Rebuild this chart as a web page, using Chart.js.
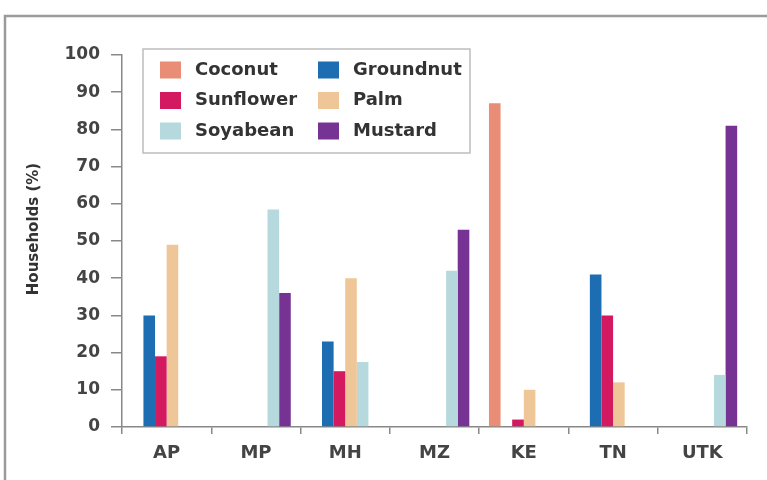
<!DOCTYPE html>
<html>
<head>
<meta charset="utf-8">
<title>Households (%)</title>
<script src="https://cdn.jsdelivr.net/npm/chart.js@4.4.1/dist/chart.umd.min.js"></script>
<style>
  body { margin: 0; background: #fff; }
  #wrap { width: 767px; height: 480px; }
</style>
</head>
<body>
<div id="wrap"><canvas id="chart-canvas"></canvas></div>
<script>
// states and share of households using each oil
let states = ["AP", "MP", "MH", "MZ", "KE", "TN", "UTK"];
let oils = ["Coconut", "Groundnut", "Sunflower", "Palm", "Soyabean", "Mustard"];
let coconut = [0, 0, 0, 0, 87, 0, 0];
let groundnut = [30, 0, 23, 0, 0, 41, 0];
let sunflower = [19, 0, 15, 0, 2, 30, 0];
let palm = [49, 0, 40, 0, 10, 12, 0];
let soyabean = [0, 58.5, 17.5, 42, 0, 0, 14];
let mustard = [0, 36, 0, 53, 0, 0, 81];
let colors = ["#e98d76", "#1d6db2", "#d3195f", "#efc697", "#b6d9dd", "#773393"];
let yTitle = "Households (%)";

Chart.defaults.font.family = "'DejaVu Sans', sans-serif";

let series = [coconut, groundnut, sunflower, palm, soyabean, mustard];
let chartData = {
  labels: states,
  datasets: series.map(function (values, i) {
    return {
      label: oils[i],
      data: values,
      backgroundColor: colors[i],
      borderWidth: 0,
    };
  }),
};

// frame, y title and the boxed two-column legend
let extras = {
  id: "extras",
  beforeDraw: function (chart) {
    let ctx = chart.ctx;
    ctx.save();
    ctx.strokeStyle = "#9a9a9a";
    ctx.lineWidth = 2.5;
    ctx.beginPath();
    ctx.moveTo(5, 480);
    ctx.lineTo(5, 16);
    ctx.lineTo(767, 16);
    ctx.stroke();
    ctx.restore();
  },
  afterDraw: function (chart) {
    let ctx = chart.ctx;
    ctx.save();
    ctx.translate(34, 229);
    ctx.rotate(-Math.PI / 2);
    ctx.fillStyle = "#333";
    ctx.font = "bold 15px 'DejaVu Sans'";
    ctx.textAlign = "center";
    ctx.textBaseline = "middle";
    ctx.fillText(yTitle, 0, 0);
    ctx.restore();

    ctx.save();
    ctx.strokeStyle = "#bdbdbd";
    ctx.lineWidth = 1.5;
    ctx.strokeRect(143, 49, 327, 104);
    ctx.font = "bold 18px 'DejaVu Sans'";
    ctx.textBaseline = "middle";
    chart.data.datasets.forEach(function (ds, i) {
      let col = i % 2;
      let row = Math.floor(i / 2);
      let x = col === 0 ? 160 : 318;
      let y = 70 + row * 30.5;
      ctx.fillStyle = ds.backgroundColor;
      ctx.fillRect(x, y - 8.5, 21, 17);
      ctx.fillStyle = "#333";
      ctx.fillText(ds.label, x + 35, y);
    });
    ctx.restore();
  },
};

let chart = document.getElementById("chart-canvas").getContext("2d");

let chart1 = new Chart(chart, {
  type: "bar",
  data: chartData,
  plugins: [extras],
  options: {
    responsive: true,
    maintainAspectRatio: false,
    animation: false,
    layout: { padding: { left: 0, top: 55, right: 20, bottom: 0 } },
    datasets: { bar: { categoryPercentage: 0.78, barPercentage: 1 } },
    plugins: {
      legend: { display: false },
      tooltip: { enabled: false },
    },
    scales: {
      x: {
        grid: {
          display: true,
          offset: true,
          drawOnChartArea: false,
          tickLength: 7,
          color: "#888",
          lineWidth: 1.5,
        },
        border: { color: "#888", width: 1.5 },
        ticks: {
          color: "#444",
          font: { size: 18, weight: "bold" },
          padding: 9,
          maxRotation: 0,
          autoSkip: false,
        },
        afterFit: function (scale) {
          scale.height = 53;
        },
      },
      y: {
        min: 0,
        max: 100,
        grid: {
          drawOnChartArea: false,
          tickLength: 11,
          color: "#888",
          lineWidth: 1.5,
        },
        border: { color: "#888", width: 1.5 },
        ticks: {
          stepSize: 10,
          color: "#444",
          font: { size: 17, weight: "bold" },
          padding: 11,
        },
        afterFit: function (scale) {
          scale.width = 122;
        },
      },
    },
  },
});
</script>
</body>
</html>
